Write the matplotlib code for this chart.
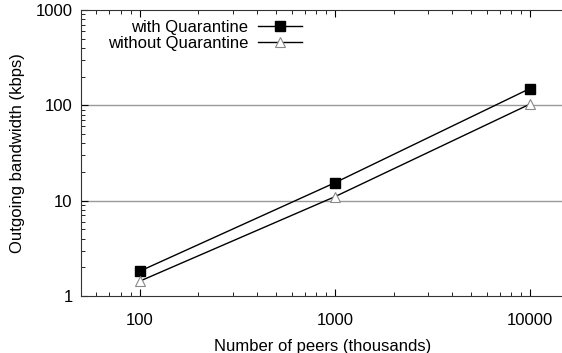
import numpy as np
import matplotlib
matplotlib.use('Agg')
import matplotlib.pyplot as plt
from matplotlib.ticker import LogLocator, FixedLocator, NullFormatter

matplotlib.rcParams['font.family'] = ['Liberation Sans', 'DejaVu Sans']
matplotlib.rcParams['xtick.direction'] = 'in'
matplotlib.rcParams['ytick.direction'] = 'in'

peers = [100, 1000, 10000]
with_q = [1.82, 15.4, 150]
without_q = [1.43, 11.0, 103]
xticks = [100, 1000, 10000]
yticks = [1, 10, 100, 1000]

fig = plt.figure(figsize=(5.62, 3.53), dpi=100)
ax = fig.add_axes([0.1441, 0.1615, 0.86, 0.8102])

for y in [10, 100]:
    ax.axhline(y, color='#999999', lw=1.0, zorder=1)

ax.plot(peers, with_q, color='black', lw=1.0, marker='s', ms=7,
        mfc='black', mec='black', label='with Quarantine', zorder=3)
ax.plot(peers, without_q, color='black', lw=1.0, marker='^', ms=7.5,
        mfc='white', mec='#888888', mew=0.8, label='without Quarantine', zorder=3)

ax.set_xscale('log')
ax.set_yscale('log')
ax.set_xlim(50, 15000)
ax.set_ylim(1, 1000)
ax.xaxis.set_major_locator(FixedLocator(xticks))
ax.yaxis.set_major_locator(FixedLocator(yticks))
ax.set_xticklabels([str(v) for v in xticks])
ax.set_yticklabels([str(v) for v in yticks])
ax.xaxis.set_minor_locator(LogLocator(base=10, subs=np.arange(2, 10)))
ax.yaxis.set_minor_locator(LogLocator(base=10, subs=np.arange(2, 10)))
ax.xaxis.set_minor_formatter(NullFormatter())
ax.yaxis.set_minor_formatter(NullFormatter())
ax.tick_params(which='major', length=5, width=0.8, labelsize=12, top=True)
ax.tick_params(which='minor', length=3, width=0.6, top=True)
ax.tick_params(axis='x', which='major', pad=12)
ax.tick_params(axis='y', which='major', pad=6)

for s in ['left', 'bottom', 'top']:
    ax.spines[s].set_linewidth(0.8)
    ax.spines[s].set_color('#333333')
ax.spines['right'].set_visible(False)

ax.set_xlabel('Number of peers (thousands)', fontsize=12, labelpad=8)
ax.set_ylabel('Outgoing bandwidth (kbps)', fontsize=12, labelpad=8)

ax.legend(loc='upper right', bbox_to_anchor=(0.477, 1.0), frameon=False,
          markerfirst=False, fontsize=12, handlelength=2.6, labelspacing=0.05,
          borderaxespad=0.2, handletextpad=0.6)

fig.savefig('out.png', dpi=100)
